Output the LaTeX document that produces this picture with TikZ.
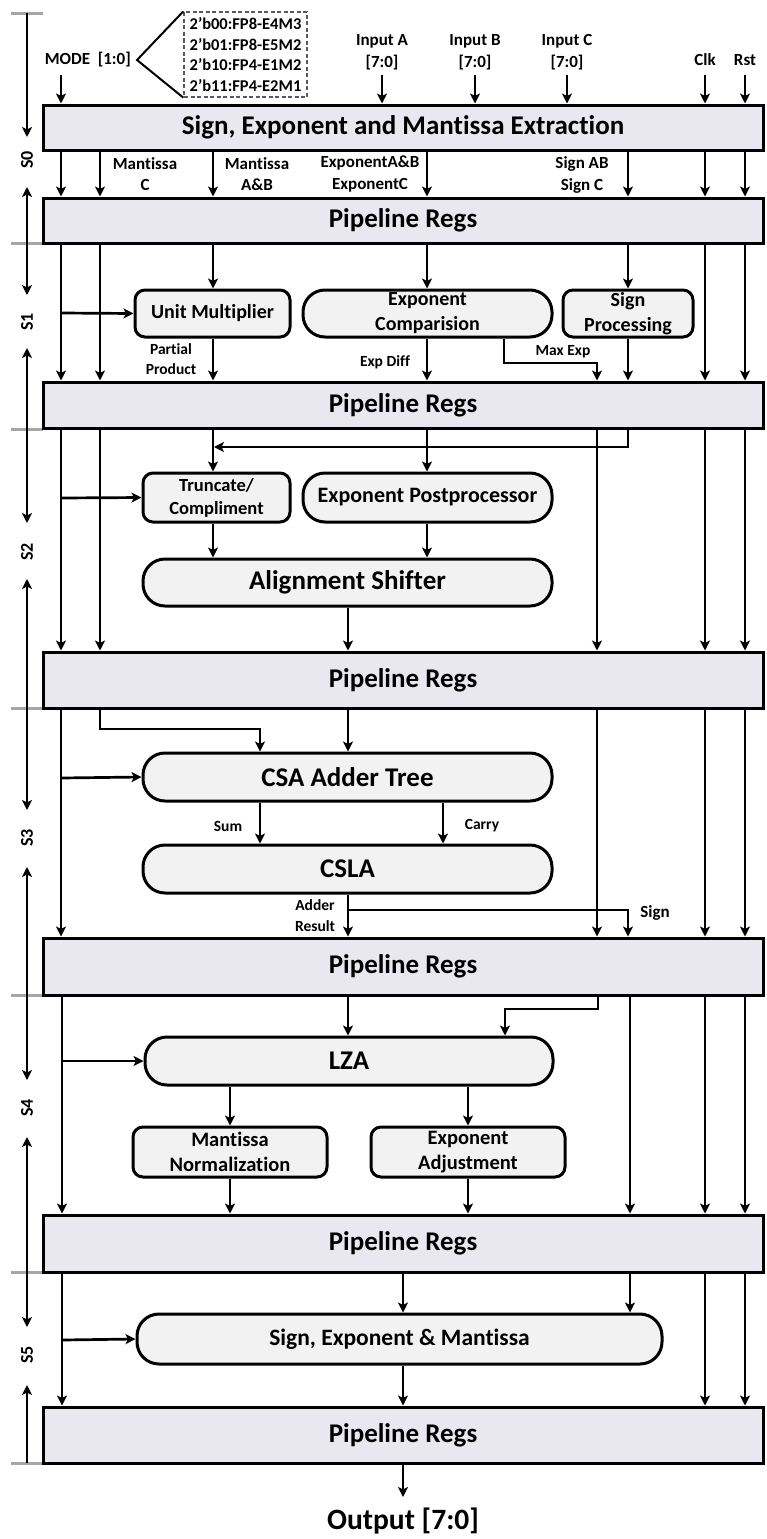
\documentclass[tikz,border=0pt]{standalone}
\usepackage{fontspec}
\setmainfont{Carlito}[Ligatures={NoCommon,NoRequired,NoContextual},Contextuals=NoAlternate]
\usetikzlibrary{arrows.meta}
\definecolor{regfill}{RGB}{233,232,240}
\definecolor{boxfill}{RGB}{242,242,242}
\definecolor{tickgray}{RGB}{166,166,166}
\begin{document}
\begin{tikzpicture}[x=1pt,y=-1pt,
  font=\bfseries,
  arr/.style={line width=2.7pt,-{Stealth[length=10pt,width=10pt,inset=2.5pt]}},
  reg/.style={draw,line width=3pt,fill=regfill,minimum width=720pt,inner sep=0pt,font=\fontsize{27}{30}\selectfont\bfseries},
  pill/.style={draw,line width=3pt,fill=boxfill,rounded corners=22pt,inner sep=0pt,align=center},
  rbox/.style={draw,line width=3pt,fill=boxfill,rounded corners=10pt,inner sep=0pt,align=center},
  lbl/.style={align=center,inner sep=0pt,font=\fontsize{17}{21.5}\selectfont\bfseries},
  slbl/.style={align=center,inner sep=0pt,font=\fontsize{15.5}{20}\selectfont\bfseries},
  tick/.style={draw=tickgray,line width=3pt},
  stg/.style={rotate=90,inner sep=0pt,font=\fontsize{18}{20}\selectfont\bfseries}]
\useasboundingbox (0,0) rectangle (767,1539);

% ---------- stage markers ----------
\foreach \y in {13,243,429,708,995,1272,1463}{\draw[tick] (11,\y) -- (43,\y);}
\foreach \t/\b/\m/\u/\d/\s in {13/243/160/137/187/S0,243/429/322/295/348/S1,429/708/552/523/579/S2,708/995/838/810/867/S3,995/1272/1108/1080/1137/S4,1272/1463/1355/1327/1385/S5}{
  \node[stg] (stage\s) at (27,\m) {\s};
  \draw[arr] (27,\t) -- (27,\u);
  \draw[arr] (27,\b) -- (27,\d);
}

% ---------- main boxes ----------
\node[reg,minimum height=45pt] (ext) at (403,127.5) {Sign, Exponent and Mantissa Extraction};
\node[reg,minimum height=45pt] (pr1) at (403,220.5) {Pipeline Regs};
\node[reg,minimum height=46pt] (pr2) at (403,405) {Pipeline Regs};
\node[reg,minimum height=56pt] (pr3) at (403,680) {Pipeline Regs};
\node[reg,minimum height=57pt] (pr4) at (403,966.5) {Pipeline Regs};
\node[reg,minimum height=57pt] (pr5) at (403,1243.5) {Pipeline Regs};
\node[reg,minimum height=56pt] (pr6) at (403,1435) {Pipeline Regs};

% ---------- processing blocks ----------
\node[rbox,minimum width=155pt,minimum height=47pt,font=\fontsize{20}{25}\selectfont\bfseries] (um) at (212.5,313.5) {Unit Multiplier};
\node[pill,minimum width=249pt,minimum height=47pt,font=\fontsize{20}{25}\selectfont\bfseries] (ec) at (427.5,313.5) {Exponent\\Comparision};
\node[rbox,minimum width=130pt,minimum height=47pt,font=\fontsize{20}{25}\selectfont\bfseries] (sp) at (628,313.5) {Sign\\Processing};
\node[rbox,minimum width=147pt,minimum height=49pt,font=\fontsize{18.5}{23}\selectfont\bfseries] (tc) at (216.5,497.5) {Truncate/\\Compliment};
\node[pill,minimum width=249pt,minimum height=49pt,font=\fontsize{22}{26}\selectfont\bfseries] (ep) at (427.5,497.5) {Exponent Postprocessor};
\node[pill,minimum width=409pt,minimum height=47pt,font=\fontsize{27}{30}\selectfont\bfseries] (as) at (347.5,582.5) {Alignment Shifter};
\node[pill,minimum width=409pt,minimum height=48pt,font=\fontsize{27}{30}\selectfont\bfseries] (csa) at (347.5,777) {CSA Adder Tree};
\node[pill,minimum width=409pt,minimum height=48pt,font=\fontsize{27}{30}\selectfont\bfseries] (csla) at (347.5,869) {CSLA};
\node[pill,minimum width=408pt,minimum height=48pt,font=\fontsize{27}{30}\selectfont\bfseries] (lza) at (349,1061) {LZA};
\node[rbox,minimum width=194pt,minimum height=50pt,font=\fontsize{20.5}{25}\selectfont\bfseries] (mn) at (230,1152) {Mantissa\\Normalization};
\node[rbox,minimum width=194pt,minimum height=50pt,font=\fontsize{20.5}{25}\selectfont\bfseries] (ea) at (468,1152) {Exponent\\Adjustment};
\node[pill,minimum width=525pt,minimum height=50pt,font=\fontsize{23.5}{27}\selectfont\bfseries] (sem) at (399.5,1339) {Sign, Exponent \& Mantissa};

% ---------- inputs ----------
\node[lbl,anchor=east] (mode) at (131,60) {MODE\ \ [1:0]};
\node[draw=black!65,dash pattern=on 4pt off 2.5pt,line width=1.3pt,minimum width=123pt,minimum height=85pt,inner sep=0pt,align=left,font=\fontsize{16.5}{20.5}\selectfont\bfseries] (modetab) at (245.5,54.5) {2'b00:FP8-E4M3\\2'b01:FP8-E5M2\\2'b10:FP4-E1M2\\2'b11:FP4-E2M1};
\draw[line width=2pt] (modetab.north west) -- ([xshift=6pt]mode.east) -- (modetab.south west);
\node[lbl] (ina) at (382,52) {Input A\\{}[7:0]};
\node[lbl] (inb) at (475,52) {Input B\\{}[7:0]};
\node[lbl] (inc) at (567,52) {Input C\\{}[7:0]};
\node[lbl] (clk) at (705,60) {Clk};
\node[lbl] (rst) at (745,60) {Rst};
\draw[arr] (61,75) -- (61,0 |- ext.north);
\draw[arr] (382,75) -- (382,0 |- ext.north);
\draw[arr] (475,75) -- (475,0 |- ext.north);
\draw[arr] (567,75) -- (567,0 |- ext.north);
\draw[arr] (705,75) -- (705,0 |- ext.north);
\draw[arr] (745,75) -- (745,0 |- ext.north);

% ---------- S0 outputs ----------
\foreach \x in {61,100,213,427,628,705,745}{\draw[arr] (\x,0 |- ext.south) -- (\x,0 |- pr1.north);}
\node[lbl] at (145,174) {Mantissa\\C};
\node[lbl] at (257,174) {Mantissa\\A\&B};
\node[lbl] at (370,174) {ExponentA\&B\\ExponentC};
\node[lbl] at (582,175) {Sign AB\\Sign C};

% ---------- S1 ----------
\foreach \x in {61,100,705,745}{\draw[arr] (\x,0 |- pr1.south) -- (\x,0 |- pr2.north);}
\draw[arr] (61,313) -- (um.west);
\draw[arr] (213,0 |- pr1.south) -- (213,0 |- um.north);
\draw[arr] (213,0 |- um.south) -- (213,0 |- pr2.north);
\draw[arr] (427,0 |- pr1.south) -- (427,0 |- ec.north);
\draw[arr] (427,0 |- ec.south) -- (427,0 |- pr2.north);
\draw[arr] (628,0 |- pr1.south) -- (628,0 |- sp.north);
\draw[arr] (628,0 |- sp.south) -- (628,0 |- pr2.north);
\draw[arr] (504,0 |- ec.south) -- (504,363) -- (597,363) -- (597,0 |- pr2.north);
\node[slbl] at (171,359) {Partial\\Product};
\node[slbl] at (385,362) {Exp Diff};
\node[slbl] at (563,352) {Max Exp};

% ---------- S2 ----------
\foreach \x in {61,100,597,705,745}{\draw[arr] (\x,0 |- pr2.south) -- (\x,0 |- pr3.north);}
\draw[arr] (628,0 |- pr2.south) -- (628,447) -- (214,447);
\draw[arr] (213,0 |- pr2.south) -- (213,0 |- tc.north);
\draw[arr] (61,498) -- (tc.west);
\draw[arr] (427,0 |- pr2.south) -- (427,0 |- ep.north);
\draw[arr] (213,0 |- tc.south) -- (213,0 |- as.north);
\draw[arr] (427,0 |- ep.south) -- (427,0 |- as.north);
\draw[arr] (348,0 |- as.south) -- (348,0 |- pr3.north);

% ---------- S3 ----------
\foreach \x in {61,597,705,745}{\draw[arr] (\x,0 |- pr3.south) -- (\x,0 |- pr4.north);}
\draw[arr] (100,0 |- pr3.south) -- (100,729) -- (260,729) -- (260,0 |- csa.north);
\draw[arr] (348,0 |- pr3.south) -- (348,0 |- csa.north);
\draw[arr] (61,778) -- (csa.west);
\draw[arr] (260,0 |- csa.south) -- (260,0 |- csla.north);
\draw[arr] (443,0 |- csa.south) -- (443,0 |- csla.north);
\draw[arr] (348,0 |- csla.south) -- (348,0 |- pr4.north);
\draw[arr] (348,910) -- (628,910) -- (628,0 |- pr4.north);
\node[slbl] at (228,826) {Sum};
\node[slbl] at (482,826) {Carry};
\node[slbl,font=\fontsize{15.5}{21}\selectfont\bfseries] at (315,916) {Adder\\Result};
\node[lbl] at (655,913) {Sign};

% ---------- S4 ----------
\foreach \x in {62,630,705,745}{\draw[arr] (\x,0 |- pr4.south) -- (\x,0 |- pr5.north);}
\draw[arr] (62,1061) -- (lza.west);
\draw[arr] (348,0 |- pr4.south) -- (348,0 |- lza.north);
\draw[arr] (598,0 |- pr4.south) -- (598,1009) -- (505,1009) -- (505,0 |- lza.north);
\draw[arr] (230,0 |- lza.south) -- (230,0 |- mn.north);
\draw[arr] (468,0 |- lza.south) -- (468,0 |- ea.north);
\draw[arr] (230,0 |- mn.south) -- (230,0 |- pr5.north);
\draw[arr] (468,0 |- ea.south) -- (468,0 |- pr5.north);

% ---------- S5 ----------
\foreach \x in {62,705,745}{\draw[arr] (\x,0 |- pr5.south) -- (\x,0 |- pr6.north);}
\draw[arr] (62,1340) -- (sem.west);
\draw[arr] (403,0 |- pr5.south) -- (403,0 |- sem.north);
\draw[arr] (630,0 |- pr5.south) -- (630,0 |- sem.north);
\draw[arr] (403,0 |- sem.south) -- (403,0 |- pr6.north);

% ---------- output ----------
\node[inner sep=0pt,font=\fontsize{29.5}{32}\selectfont\bfseries] (out) at (403,1521) {Output [7:0]};
\draw[arr] (403,0 |- pr6.south) -- (403,1497);
\end{tikzpicture}
\end{document}
